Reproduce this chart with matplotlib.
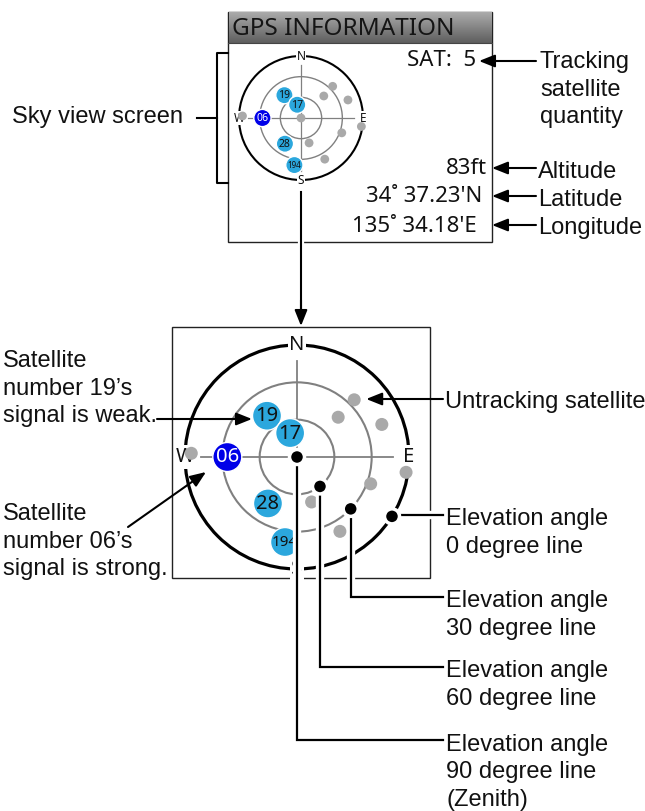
import numpy as np
import matplotlib
matplotlib.use("Agg")
import matplotlib.pyplot as plt
from matplotlib.patches import Circle, Rectangle
import matplotlib.patheffects as pe

# ---------------- data ----------------
sat_ids = ['19', '17', '06', '28', '194']
sat_az = [324, 344, 270, 212, 188]          # azimuth (deg, clockwise from N)
sat_el = [49, 70, 34, 46, 21]               # elevation (deg)
sat_strong = [False, False, True, False, False]

untracked_az = [0, 45, 46, 69, 272, 98, 110, 162, 150]
untracked_el = [90, 25, 44, 17, 5, 1.5, 27, 52, 21]

ring_elevations = [0, 30, 60]
callout_ring_el = [0, 30, 60, 90]
callout_ring_az = [122, 134, 142, 0]
callout_labels = [["Elevation angle", "0 degree line"],
                  ["Elevation angle", "30 degree line"],
                  ["Elevation angle", "60 degree line"],
                  ["Elevation angle", "90 degree line", "(Zenith)"]]
callout_label_y = [515, 597, 667, 740]

screen_title = "GPS INFORMATION"
sat_count = "SAT:  5"
altitude = "83ft"
latitude = "34\u02da 37.23'N"
longitude = "135\u02da 34.18'E"
screen_labels = ["Altitude", "Latitude", "Longitude"]

directions = ['N', 'E', 'S', 'W']

# ---------------- figure ----------------
fig = plt.figure(figsize=(6.45, 8.11), dpi=100)
ax = fig.add_axes([0, 0, 1, 1])
ax.set_xlim(0, 645)
ax.set_ylim(811, 0)
ax.axis('off')

LAB = 'Liberation Sans'
SCR = 'Noto Sans'
LFS = 17
LSP = 27.6
halo = [pe.withStroke(linewidth=6, foreground='white')]


def lines(x, baseline, rows):
    for i, t in enumerate(rows):
        ax.text(x, baseline + i * LSP, t, fontsize=LFS, family=LAB, ha='left', va='baseline', color='#111111')


def polar_xy(cx, cy, R, az, el):
    r = R * (90 - el) / 90.0
    a = np.deg2rad(az)
    return cx + r * np.sin(a), cy - r * np.cos(a)


def draw_sky(cx, cy, R, big):
    s = R / 112.0
    for el in ring_elevations:
        r = R * (90 - el) / 90.0
        if el == 0:
            ax.add_patch(Circle((cx, cy), r, fill=False, ec='black', lw=2.3 if big else 1.5, zorder=2))
        else:
            ax.add_patch(Circle((cx, cy), r, fill=False, ec='#808080', lw=1.5 if big else 1.0, zorder=2))
    L = 0.86 * R
    ax.plot([cx - L, cx + L], [cy, cy], color='#808080', lw=1.3 if big else 0.9, zorder=2)
    ax.plot([cx, cx], [cy - L, cy + L], color='#808080', lw=1.3 if big else 0.9, zorder=2)
    fs = 14.5 if big else 8.5
    for d, az in zip(directions, [0, 90, 180, 270]):
        x, y = polar_xy(cx, cy, R, az, 0)
        ax.text(x, y, d, fontsize=fs, family=SCR, ha='center', va='center', color='#111111',
                bbox=dict(boxstyle='square,pad=0.08', fc='white', ec='none'), zorder=3)
    for az, el in zip(untracked_az, untracked_el):
        x, y = polar_xy(cx, cy, R, az, el)
        ax.add_patch(Circle((x, y), 6.5 * s + (0.8 if not big else 0), fc='#a9a9a9', ec='none', zorder=4))
    for sid, az, el, strong in zip(sat_ids, sat_az, sat_el, sat_strong):
        x, y = polar_xy(cx, cy, R, az, el)
        fc = '#0000e8' if strong else '#2ba7dd'
        tc = 'white' if strong else '#111111'
        ax.add_patch(Circle((x, y), 14.5 * s + (0.6 if not big else 0), fc=fc, ec='white', lw=1.0, zorder=5))
        f = (14.5 if len(sid) < 3 else 11) if big else (7.5 if len(sid) < 3 else 5.8)
        ax.text(x, y + 0.5, sid, fontsize=f, family=SCR, ha='center', va='center', color=tc, zorder=6)


# ---------------- top screen ----------------
ax.add_patch(Rectangle((228, 12), 264, 230, fc='white', ec='#222222', lw=1.0, zorder=1))
grad = np.linspace(0, 1, 64).reshape(-1, 1)
ax.imshow(grad, extent=(228.5, 491.5, 43, 12.5),
          cmap=matplotlib.colors.LinearSegmentedColormap.from_list('g', ['#ababab', '#5e5e5e']),
          aspect='auto', zorder=1.5, interpolation='bilinear')
ax.plot([228, 492], [43, 43], color='#444444', lw=0.8, zorder=1.6)
ax.text(232, 29, screen_title, fontsize=17.5, family=SCR, ha='left', va='center', color='#151515', zorder=2)
ax.text(476, 61, sat_count, fontsize=16, family=SCR, ha='right', va='center', color='#111111', zorder=2)
ax.text(487, 168, altitude, fontsize=16, family=SCR, ha='right', va='center', color='#111111', zorder=2)
ax.text(482, 196, latitude, fontsize=16, family=SCR, ha='right', va='center', color='#111111', zorder=2)
ax.text(477, 227, longitude, fontsize=16, family=SCR, ha='right', va='center', color='#111111', zorder=2)

draw_sky(301, 118, 62, big=False)

# bracket for sky view
ax.plot([228, 217, 217, 228], [53, 53, 183, 183], color='black', lw=1.5, zorder=3)
ax.plot([197, 217], [118, 118], color='black', lw=1.5, zorder=3)
lines(12, 123, ["Sky view screen"])


def arrow(x0, y0, x1, y1, z=7):
    ax.annotate('', xy=(x1, y1), xytext=(x0, y0), zorder=z,
                arrowprops=dict(arrowstyle='-|>,head_length=0.95,head_width=0.38', color='black',
                                lw=1.5, shrinkA=0, shrinkB=0))


arrow(536, 61, 479, 61)
lines(540, 68, ["Tracking", "satellite", "quantity"])
for lab, yy, bl in zip(screen_labels, [168, 196, 225], [178, 206, 234]):
    arrow(536, yy, 492, yy)
    lines(538, bl, [lab])

# connecting arrow
ax.plot([301, 301], [192, 312], color='black', lw=1.5, zorder=7,
        path_effects=[pe.withStroke(linewidth=4.5, foreground='white')])
arrow(301, 300, 301, 326, z=8)

# ---------------- big view ----------------
ax.add_patch(Rectangle((172, 327), 258, 251, fc='white', ec='#222222', lw=1.0, zorder=1))
CX, CY, R = 297, 457, 112
draw_sky(CX, CY, R, big=True)

LX = 443
for el, az, lab, ly in zip(callout_ring_el, callout_ring_az, callout_labels, callout_label_y):
    x, y = polar_xy(CX, CY, R, az, el)
    if abs(y - ly) < 3:
        xs, ys = [x, LX], [ly, ly]
    else:
        xs, ys = [x, x, LX], [y, ly, ly]
    ax.plot(xs, ys, color='black', lw=1.6, zorder=7, solid_joinstyle='miter', path_effects=halo)
    ax.add_patch(Circle((x, y), 7.5, fc='black', ec='white', lw=2.5, zorder=8))
    lines(LX + 3, ly + 10.5, lab)

# untracking satellite label
ux, uy = polar_xy(CX, CY, R, untracked_az[1], untracked_el[1])
arrow(LX, 399, ux + 12, 399)
lines(LX + 2, 408, ["Untracking satellite"])

# left labels
lines(3, 367, ["Satellite", "number 19\u2019s", "signal is weak."])
arrow(157, 419, 252, 419)
lines(3, 520, ["Satellite", "number 06\u2019s", "signal is strong."])
arrow(128, 527, 206, 472)

fig.savefig("out.png", dpi=100)
